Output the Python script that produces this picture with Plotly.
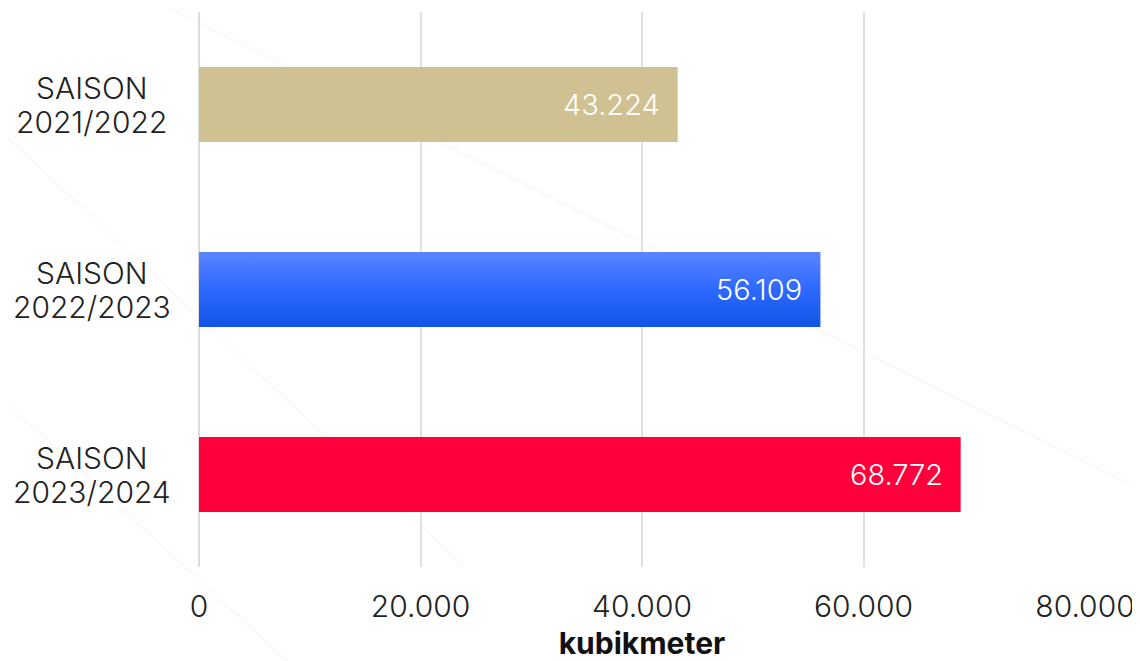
import plotly.graph_objects as go

# data
seasons = ["SAISON<br>2021/2022", "SAISON<br>2022/2023", "SAISON<br>2023/2024"]
volumes = [43224, 56109, 68772]
bar_colors = ["#d0c192", "#2f6cff", "#ff003c"]
x_ticks = [0, 20000, 40000, 60000, 80000]

font_family = "Inter, Roboto, sans-serif"
bar_w = 0.405
pos = list(range(len(seasons)))

def fmt(v):
    return f"{v:,}".replace(",", ".")

fig = go.Figure()

# plain bars (gold + red); blue one is drawn as a gradient polygon below
fig.add_trace(go.Bar(
    x=[volumes[0], 0, volumes[2]], y=pos, orientation="h", width=bar_w,
    marker=dict(color=[bar_colors[0], bar_colors[1], bar_colors[2]], line=dict(width=0)),
    hoverinfo="skip", showlegend=False,
))

# blue bar with vertical gradient (lighter at the top)
i = 1
v = volumes[i]
fig.add_trace(go.Scatter(
    x=[0, v, v, 0, 0],
    y=[i - bar_w / 2, i - bar_w / 2, i + bar_w / 2, i + bar_w / 2, i - bar_w / 2],
    mode="lines", line=dict(width=0), fill="toself",
    fillgradient=dict(type="vertical",
                      colorscale=[[0, "#1254e4"], [0.5, "#2d69ff"], [1, "#5a85ff"]]),
    hoverinfo="skip", showlegend=False,
))

# value labels inside bar ends
for i, v in enumerate(volumes):
    fig.add_annotation(x=v, y=i, text=fmt(v), showarrow=False,
                       xanchor="right", xshift=-16,
                       font=dict(family=font_family, size=29, weight=300, color="white"))

# category labels, centered two lines (tighter line spacing than plotly's <br>)
for i, s in enumerate(seasons):
    for line, shift in zip(s.split("<br>"), [17, -17]):
        fig.add_annotation(x=-0.121, xref="paper", y=i, yref="y", text=line,
                           showarrow=False, xanchor="center", yshift=shift,
                           font=dict(family=font_family, size=30, weight=300, color="#222222"))

# faint decorative diagonals in the background
deco = [(-0.22, 0.78, 0.3, 0.0), (-0.05, 1.02, 1.05, 0.15), (-0.22, 0.3, 0.1, -0.17)]
for x0, y0, x1, y1 in deco:
    fig.add_shape(type="line", xref="paper", yref="paper", x0=x0, y0=y0, x1=x1, y1=y1,
                  line=dict(color="rgba(215,205,170,0.13)", width=2), layer="below")

# page body has an 8px margin, so the figure is 8px smaller each way
fig.update_layout(
    width=1132, height=653,
    margin=dict(l=191, r=55, t=4, b=94),
    paper_bgcolor="white", plot_bgcolor="rgba(0,0,0,0)",
    separators=",.",
    font=dict(family=font_family, size=30, color="#222222"),
    showlegend=False,
)
fig.update_xaxes(
    range=[0, 80000], tickvals=x_ticks, tickformat=",d",
    showgrid=True, gridcolor="#e0e0e0", gridwidth=2,
    zeroline=True, zerolinecolor="#dcdcdc", zerolinewidth=2,
    ticks="", ticklabelstandoff=19, automargin=False,
    tickfont=dict(size=30, weight=300, color="#222222"),
    title=dict(text="<b>kubikmeter</b>", standoff=9,
               font=dict(family=font_family, size=30, color="#111111")),
)
fig.update_yaxes(
    range=[2.5, -0.5], tickvals=pos, showticklabels=False,
    showgrid=False, zeroline=False, automargin=False,
)

fig.write_html("out.html")
